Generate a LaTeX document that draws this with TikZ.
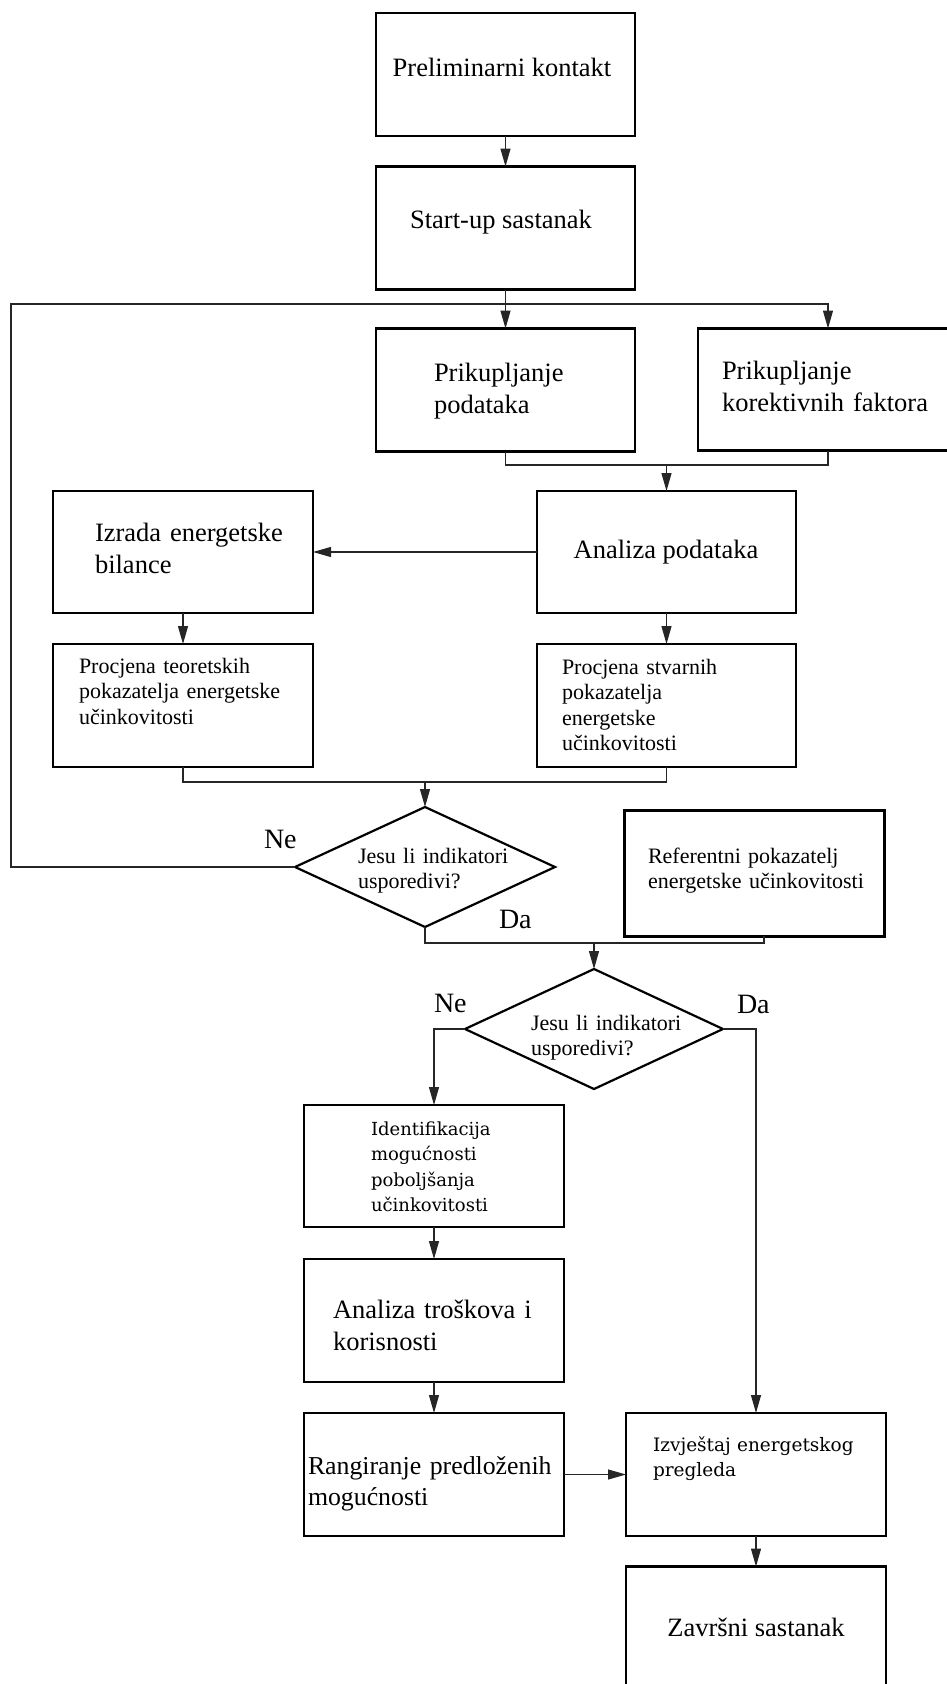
\documentclass[tikz,border=0pt]{standalone}
\usepackage{fontspec}
\setmainfont{Liberation Serif}
\newfontfamily\wideserif{DejaVu Serif}
\usetikzlibrary{shapes.geometric,arrows.meta}

\tikzset{
 box/.style={draw=black, line width=2.3pt, rectangle, minimum width=259pt, minimum height=123pt, inner sep=0pt, outer sep=0pt},
 decision/.style={draw=black, line width=2.2pt, diamond, minimum width=260pt, minimum height=120pt, inner sep=0pt, outer sep=0pt},
 conn/.style={draw=black!85, line width=1.2pt},
 arr/.style={conn, -{Triangle[length=18pt,width=10pt]}},
 txt/.style={inner sep=0pt, outer sep=0pt, anchor=base west, text width=300pt, align=left},
 ctr/.style={inner sep=0pt, outer sep=0pt, anchor=base},
 big/.style={font=\fontsize{26.5}{32}\selectfont},
 small/.style={font=\fontsize{22}{25.5}\selectfont},
 wide/.style={font=\wideserif\fontsize{18}{25.5}\selectfont},
 yn/.style={inner sep=0pt, outer sep=0pt, anchor=base west, font=\fontsize{28}{30}\selectfont},
}

\begin{document}
\begin{tikzpicture}[x=1pt,y=-1pt]
\useasboundingbox (0,0) rectangle (947,1684);

% boxes
\node[box] (pre)   at (505.5,74.5) {};
\node[box] (start) at (505.5,228) {};
\node[box] (pp)    at (505.5,390) {};
\node[box, minimum width=260pt, minimum height=122pt] (pk) at (828,389.5) {};
\node[box, minimum width=260pt, minimum height=122pt] (izr) at (183,552) {};
\node[box, minimum height=122pt] (an) at (666.5,552) {};
\node[box, minimum width=260pt] (pt) at (183,705.5) {};
\node[box] (ps) at (666.5,705.5) {};
\node[decision] (d1) at (425,867) {};
\node[box, line width=3pt, minimum width=260pt, minimum height=126pt] (ref) at (754,873) {};
\node[decision, minimum width=258pt] (d2) at (594,1029) {};
\node[box, minimum width=260pt, minimum height=122pt] (id) at (434,1166) {};
\node[box, minimum width=260pt] (at) at (434,1320.5) {};
\node[box, minimum width=260pt] (rg) at (434,1474.5) {};
\node[box, minimum width=260pt] (iz) at (756,1474.5) {};
\node[box, minimum width=260pt] (zs) at (756,1628) {};

% helper coordinates
\coordinate (tl) at (11,304);
\coordinate (j1) at (666.5,465);
\coordinate (j2) at (425,782);
\coordinate (j3) at (594,943);
\coordinate (jr) at (764,943);

% connectors
\draw[arr] (pre) -- (start);
\draw[arr] (start) -- (pp);
\draw[arr] (d1.west) -| (tl) -| (pk.north);
\draw[conn] (pp.south) |- (pk.south |- j1) -- (pk.south);
\draw[arr] (j1) -- (an.north);
\draw[arr] (an.west) -- (izr.east);
\draw[arr] (izr) -- (pt);
\draw[arr] (an) -- (ps);
\draw[conn] (pt.south) |- (ps.south |- j2) -- (ps.south);
\draw[arr] (j2) -- (d1.north);
\draw[conn] (d1.south) |- (jr) -- (jr |- ref.south);
\draw[arr] (j3) -- (d2.north);
\draw[arr] (d2.west) -| (id.north);
\draw[arr] (d2.east) -| (iz.north);
\draw[arr] (id) -- (at);
\draw[arr] (at) -- (rg);
\draw[arr] (rg.east) -- (iz.west);
\draw[arr] (iz) -- (zs);

% texts
\node[ctr,big] (tpre) at (502,76) {Preliminarni kontakt};
\node[ctr,big] (tstart) at (501,228) {Start-up sastanak};
\node[txt,big] (tpp) at (434,381) {Prikupljanje\\podataka};
\node[txt,big] (tpk) at (722,379) {Prikupljanje\\korektivnih faktora};
\node[txt,big] (tizr) at (95,541) {Izrada energetske\\bilance};
\node[ctr,big] (tan) at (666,558) {Analiza podataka};
\node[txt,small] (tpt) at (79,673) {Procjena teoretskih\\pokazatelja energetske\\učinkovitosti};
\node[txt,small] (tps) at (562,674) {Procjena stvarnih\\pokazatelja\\energetske\\učinkovitosti};
\node[txt,small] (td1) at (358,863) {Jesu li indikatori\\usporedivi?};
\node[txt,small] (tref) at (648,863) {Referentni pokazatelj\\energetske učinkovitosti};
\node[txt,small] (td2) at (531,1030) {Jesu li indikatori\\usporedivi?};
\node[txt,wide] (tid) at (371,1135) {Identifikacija\\mogućnosti\\poboljšanja\\učinkovitosti};
\node[txt,big] (tat) at (333,1318) {Analiza troškova i\\korisnosti};
\node[txt,font=\fontsize{25.8}{31}\selectfont] (trg) at (308,1474) {Rangiranje predloženih\\mogućnosti};
\node[txt,font=\wideserif\fontsize{18.5}{25}\selectfont] (tiz) at (653,1451) {Izvještaj energetskog\\pregleda};
\node[ctr,big] (tzs) at (756,1636) {Završni sastanak};

% yes/no labels
\node[yn] (ne1) at (264,848) {Ne};
\node[yn] (da1) at (499,928) {Da};
\node[yn] (ne2) at (434,1012) {Ne};
\node[yn] (da2) at (737,1013) {Da};
\end{tikzpicture}
\end{document}
